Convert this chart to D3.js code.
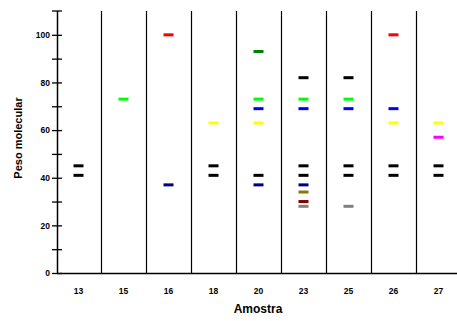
<!DOCTYPE html>
<html>
<head>
<meta charset="utf-8">
<script src="https://cdn.jsdelivr.net/npm/d3@7"></script>
<style>
  body { margin: 0; background: #fff; }
  text { font-family: Arial, "Liberation Sans", sans-serif; font-weight: bold; }
</style>
</head>
<body>
<svg width="457" height="321"></svg>
<script>
var svg = d3.select("svg");

// amostras (lanes)
var amostras = ["13", "15", "16", "18", "20", "23", "25", "26", "27"];

// bands per colour: [amostra, peso molecular]
var preto = [["13", 45], ["13", 41], ["18", 45], ["18", 41], ["20", 41],
             ["23", 82], ["23", 45], ["23", 41], ["25", 82], ["25", 45], ["25", 41],
             ["26", 45], ["26", 41], ["27", 45], ["27", 41]];
var verde = [["15", 73], ["20", 73], ["23", 73], ["25", 73]];
var verdeEscuro = [["20", 93]];
var azul = [["20", 69], ["23", 69], ["25", 69], ["26", 69]];
var azulEscuro = [["16", 37], ["20", 37], ["23", 37]];
var vermelho = [["16", 100], ["26", 100]];
var amarelo = [["18", 63], ["20", 63], ["26", 63], ["27", 63]];
var oliva = [["23", 34]];
var vinho = [["23", 30]];
var cinza = [["23", 28], ["25", 28]];
var magenta = [["27", 57]];

var series = [
  { cor: "#000000", dados: preto },
  { cor: "#00ff00", dados: verde },
  { cor: "#008000", dados: verdeEscuro },
  { cor: "#0000ff", dados: azul },
  { cor: "#000080", dados: azulEscuro },
  { cor: "#ff0000", dados: vermelho },
  { cor: "#ffff00", dados: amarelo },
  { cor: "#808000", dados: oliva },
  { cor: "#800000", dados: vinho },
  { cor: "#808080", dados: cinza },
  { cor: "#ff00ff", dados: magenta }
];

var yTicks = [0, 20, 40, 60, 80, 100];

var x = d3.scaleBand().domain(amostras).range([56, 461]);
var y = d3.scaleLinear().domain([0, 110]).range([273, 11]);

// lane separators
svg.append("g").selectAll("line")
    .data(amostras.slice(1))
    .enter().append("line")
    .attr("x1", function (d) { return Math.round(x(d)) + 0.5; })
    .attr("x2", function (d) { return Math.round(x(d)) + 0.5; })
    .attr("y1", y(110))
    .attr("y2", y(0))
    .attr("stroke", "#000")
    .attr("stroke-width", 1.2);

// bands
var bandas = [];
series.forEach(function (s) {
  s.dados.forEach(function (d) { bandas.push({ amostra: d[0], peso: d[1], cor: s.cor }); });
});

svg.append("g").selectAll("rect")
    .data(bandas)
    .enter().append("rect")
    .attr("x", function (d) { return x(d.amostra) + x.bandwidth() / 2 - 5; })
    .attr("y", function (d) { return y(d.peso) - 1.5; })
    .attr("width", 10)
    .attr("height", 3)
    .attr("fill", function (d) { return d.cor; });

// y axis
var yAxis = d3.axisLeft(y)
    .tickValues(d3.range(0, 101, 10))
    .tickSize(5)
    .tickFormat(function (d) { return yTicks.indexOf(d) >= 0 ? d : ""; });

var gy = svg.append("g")
    .attr("transform", "translate(57,0)")
    .call(yAxis);
gy.select(".domain").remove();
gy.selectAll(".tick line").attr("x2", 5).attr("x1", -5).attr("stroke-width", 1.3);
gy.selectAll(".tick text").attr("x", -7).attr("font-size", 8.5).attr("font-weight", "bold")
    .attr("font-family", "Arial, 'Liberation Sans', sans-serif").attr("fill", "#000");
svg.append("line")
    .attr("x1", 57.5).attr("x2", 57.5)
    .attr("y1", y(110)).attr("y2", y(0))
    .attr("stroke", "#000").attr("stroke-width", 1.5);
svg.append("line")
    .attr("x1", 52).attr("x2", 62)
    .attr("y1", y(110)).attr("y2", y(110))
    .attr("stroke", "#000").attr("stroke-width", 1.3);

// x axis baseline
svg.append("line")
    .attr("x1", 57).attr("x2", 457)
    .attr("y1", y(0) + 0.5).attr("y2", y(0) + 0.5)
    .attr("stroke", "#000").attr("stroke-width", 1.5);

svg.append("g").selectAll("text")
    .data(amostras)
    .enter().append("text")
    .attr("x", function (d) { return x(d) + x.bandwidth() / 2; })
    .attr("y", 294)
    .attr("text-anchor", "middle")
    .attr("font-size", 8.5)
    .text(function (d) { return d; });

svg.append("text")
    .attr("x", 258)
    .attr("y", 313)
    .attr("text-anchor", "middle")
    .attr("font-size", 12)
    .text("Amostra");

svg.append("text")
    .attr("transform", "translate(22,138) rotate(-90)")
    .attr("text-anchor", "middle")
    .attr("font-size", 11)
    .text("Peso molecular");
</script>
</body>
</html>
